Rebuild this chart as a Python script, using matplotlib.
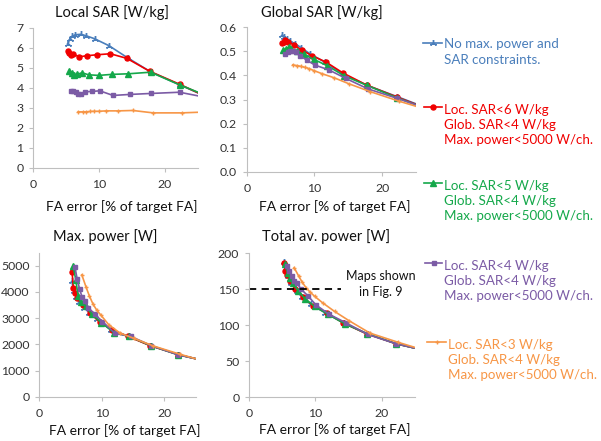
import matplotlib
matplotlib.use("Agg")
import matplotlib.pyplot as plt

plt.rcParams['font.family'] = ['Lato', 'DejaVu Sans']

# ---------------- data ----------------
# FA error [% of target FA] per series (last value: line continues to the axis edge)
fa_blue = [5.2, 5.5, 5.9, 6.4, 7.2, 8.0, 9.3, 11.5, 14.3, 17.8, 22.2, 25.0]
fa_red = [5.25, 5.45, 5.7, 6.1, 7.0, 8.1, 9.65, 11.7, 14.2, 17.7, 22.2, 25.0]
fa_green = [5.4, 5.85, 6.2, 6.6, 7.4, 8.4, 9.9, 11.9, 14.4, 17.8, 22.2, 25.0]
fa_purple = [5.7, 6.05, 6.45, 6.85, 7.25, 7.85, 8.85, 10.1, 12.1, 14.65, 17.9, 22.2, 25.0]
fa_orange = [6.8, 7.5, 8.0, 8.6, 9.2, 9.9, 11.1, 12.9, 15.1, 18.2, 22.5, 25.0]

# Local SAR [W/kg]
lsar_blue = [6.2, 6.42, 6.58, 6.65, 6.67, 6.6, 6.45, 6.1, 5.5, 4.8, 4.15, 3.75]
lsar_red = [5.85, 5.75, 5.62, 5.67, 5.55, 5.6, 5.65, 5.7, 5.47, 4.82, 4.18, 3.75]
lsar_green = [4.85, 4.75, 4.63, 4.67, 4.75, 4.65, 4.62, 4.67, 4.7, 4.78, 4.15, 3.78]
lsar_purple = [3.83, 3.83, 3.77, 3.7, 3.68, 3.8, 3.82, 3.85, 3.62, 3.67, 3.72, 3.78, 3.6]
lsar_orange = [2.8, 2.8, 2.8, 2.82, 2.83, 2.83, 2.85, 2.85, 2.87, 2.75, 2.75, 2.78]

# Global SAR [W/kg]
gsar_blue = [0.565, 0.56, 0.552, 0.542, 0.53, 0.515, 0.49, 0.455, 0.405, 0.358, 0.312, 0.282]
gsar_red = [0.532, 0.54, 0.545, 0.54, 0.525, 0.505, 0.481, 0.455, 0.41, 0.36, 0.31, 0.28]
gsar_green = [0.505, 0.51, 0.516, 0.51, 0.5, 0.487, 0.466, 0.44, 0.398, 0.358, 0.307, 0.278]
gsar_purple = [0.49, 0.495, 0.5, 0.5, 0.495, 0.482, 0.463, 0.442, 0.423, 0.387, 0.344, 0.305, 0.278]
gsar_orange = [0.443, 0.44, 0.437, 0.433, 0.428, 0.42, 0.407, 0.39, 0.365, 0.333, 0.293, 0.272]

# Max. power [W]
pmax_blue = [4400, 4050, 3800, 3600, 3400, 3200, 2950, 2550, 2300, 1950, 1610, 1450]
pmax_red = [4750, 4150, 3950, 3750, 3500, 3200, 2850, 2550, 2300, 1950, 1610, 1450]
pmax_green = [5000, 4450, 3850, 3620, 3450, 3150, 2830, 2450, 2300, 1950, 1600, 1450]
pmax_purple = [4950, 4500, 4100, 3800, 3650, 3400, 3150, 2870, 2420, 2300, 1950, 1600, 1450]
pmax_orange = [4650, 4170, 3850, 3530, 3300, 3100, 2750, 2430, 2230, 1940, 1620, 1450]

# Total av. power [W]
ptot_blue = [188, 178, 168, 158, 147, 139, 129, 117, 103, 88, 74, 68]
ptot_red = [186, 176, 170, 162, 150, 139, 127, 117, 103, 88, 74, 68]
ptot_green = [185, 172, 165, 158, 148, 137, 126, 115, 102, 88, 74, 68]
ptot_purple = [182, 175, 168, 162, 158, 150, 141, 128, 115, 103, 87, 74, 68]
ptot_orange = [180, 168, 160, 152, 146, 140, 131, 119, 106, 89, 76, 69]

maps_level = 150          # total av. power of maps shown in Fig. 9
maps_fa_range = [0, 13.9]

series_labels = [
    "No max. power and\nSAR constraints.",
    "Loc. SAR<6 W/kg\nGlob. SAR<4 W/kg\nMax. power<5000 W/ch.",
    "Loc. SAR<5 W/kg\nGlob. SAR<4 W/kg\nMax. power<5000 W/ch.",
    "Loc. SAR<4 W/kg\nGlob. SAR<4 W/kg\nMax. power<5000 W/ch.",
    "Loc. SAR<3 W/kg\nGlob. SAR<4 W/kg\nMax. power<5000 W/ch.",
]

# ---------------- styles ----------------
colors = ['#4A7EBB', '#F00000', '#14A84A', '#7B5BA5', '#F79646']
markers = [(3, 2, 0), 'o', '^', 's', '+']
msizes = [5, 3.6, 3.8, 3.3, 3.5]

FA = [fa_blue, fa_red, fa_green, fa_purple, fa_orange]
panels = [
    ([lsar_blue, lsar_red, lsar_green, lsar_purple, lsar_orange], (0, 7), list(range(0, 8)),
     [33.3, 168.0, 198.0, 27.7], "Local SAR [W/kg]", (112, 13), (122, 207)),
    ([gsar_blue, gsar_red, gsar_green, gsar_purple, gsar_orange], (0, 0.6), [0, 0.1, 0.2, 0.3, 0.4, 0.5, 0.6],
     [246.7, 172.0, 416.0, 27.0], "Global SAR [W/kg]", (322, 13), (335, 207)),
    ([pmax_blue, pmax_red, pmax_green, pmax_purple, pmax_orange], (0, 5500), [0, 1000, 2000, 3000, 4000, 5000],
     [39.3, 396.7, 195.6, 252.6], "Max. power [W]", (105, 237), (125, 431)),
    ([ptot_blue, ptot_red, ptot_green, ptot_purple, ptot_orange], (0, 200), [0, 50, 100, 150, 200],
     [249.0, 397.0, 415.0, 253.3], "Total av. power [W]", (326, 237), (335, 430)),
]

W, H = 601, 441
fig = plt.figure(figsize=(W / 100, H / 100), dpi=100)

axes = []
for vals, ylim, yticks, (x0, yb, x1, yt), title, tpos, xlpos in panels:
    ax = fig.add_axes([x0 / W, 1 - yb / H, (x1 - x0) / W, (yb - yt) / H])
    for i in range(5):
        ax.plot(FA[i], vals[i], color=colors[i], lw=1.2, marker=markers[i], ms=msizes[i],
                mew=1.0, markevery=slice(0, len(FA[i]) - 1), clip_on=True)
    ax.set_xlim(0, 25)
    ax.set_ylim(*ylim)
    ax.set_xticks([0, 10, 20])
    ax.set_yticks(yticks)
    for s in ['top', 'right']:
        ax.spines[s].set_visible(False)
    for s in ['left', 'bottom']:
        ax.spines[s].set_color('#BFBFBF')
        ax.spines[s].set_linewidth(0.8)
    ax.tick_params(axis='both', colors='#BFBFBF', labelcolor='#333333', labelsize=8.8,
                   length=3, width=0.8)
    ax.tick_params(axis='x', pad=5)
    ax.tick_params(axis='y', pad=4)
    fig.text(tpos[0] / W, 1 - tpos[1] / H, title, ha='center', va='center', fontsize=10.5, color='#111111')
    fig.text(xlpos[0] / W, 1 - xlpos[1] / H, "FA error [% of target FA]", ha='center', va='center',
             fontsize=10, color='#111111')
    axes.append(ax)

# dashed reference line and annotation
ax4 = axes[3]
ax4.plot(maps_fa_range, [maps_level, maps_level], color='black', lw=1.3, ls=(0, (4, 3)))
fig.text(381 / W, 1 - 284 / H, "Maps shown\nin Fig. 9", ha='center', va='center', fontsize=9,
         color='#111111', linespacing=1.35)

# legend (text entries on the right)
leg_y = [43, 107, 183, 263, 342]
leg_x0 = [423, 424, 424, 425, 427]
leg_x1 = [442, 442, 442, 442, 446]
leg_tx = [443, 443, 443, 443, 447]
lax = fig.add_axes([0, 0, 1, 1], facecolor='none')
lax.set_xlim(0, W)
lax.set_ylim(H, 0)
lax.axis('off')
line_h = 18.0
for i in range(5):
    xm = (leg_x0[i] + leg_x1[i]) / 2
    lax.plot([leg_x0[i], leg_x1[i]], [leg_y[i], leg_y[i]], color=colors[i], lw=1.2)
    lax.plot([xm], [leg_y[i]], color=colors[i], marker=markers[i], ms=msizes[i], mew=1.0, ls='none')
    n = series_labels[i].count("\n") + 1
    lax.text(leg_tx[i] + 1, leg_y[i] + (n - 1) * line_h / 2, series_labels[i], ha='left', va='center',
             fontsize=9.6, color=colors[i], linespacing=1.32)

fig.savefig('out.png', dpi=100)
